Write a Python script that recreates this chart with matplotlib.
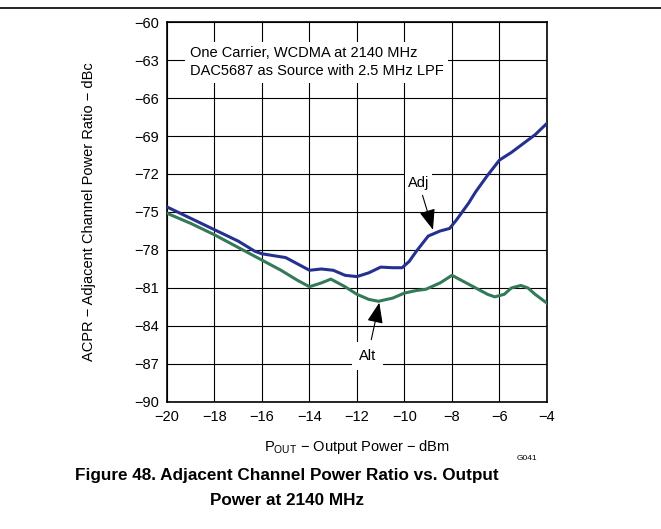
import numpy as np
import matplotlib
matplotlib.use("Agg")
import matplotlib.pyplot as plt

plt.rcParams['font.family'] = ['Liberation Sans', 'DejaVu Sans']

# Adj channel (blue)
adj_x = [-20, -19, -18, -17, -16.3, -16, -15, -14.5, -14, -13.5, -13, -12.5, -12,
         -11.5, -11, -10.5, -10.1, -9.8, -9.5, -9, -8.5, -8.1, -7.8, -7.3, -7,
         -6.5, -6, -5.5, -5, -4.5, -4]
adj_y = [-74.6, -75.5, -76.4, -77.3, -78.1, -78.3, -78.6, -79.1, -79.6, -79.5, -79.6,
         -80.0, -80.1, -79.8, -79.35, -79.4, -79.4, -78.9, -78.1, -76.9, -76.5, -76.3,
         -75.6, -74.3, -73.4, -72.1, -70.9, -70.3, -69.6, -68.9, -68.0]

# Alt channel (green)
alt_x = [-20, -19, -18, -17, -16, -15.2, -14.5, -14, -13.5, -13.1, -12.5, -12, -11.5,
         -11.1, -10.5, -10, -9.5, -9.1, -8.5, -8, -7.5, -7, -6.5, -6.2, -5.8, -5.5,
         -5.1, -4.8, -4.5, -4]
alt_y = [-75.1, -75.9, -76.8, -77.8, -78.8, -79.6, -80.4, -80.9, -80.6, -80.3, -80.9,
         -81.5, -81.9, -82.05, -81.8, -81.4, -81.2, -81.1, -80.6, -80.0, -80.5, -81.0,
         -81.5, -81.7, -81.5, -81.0, -80.8, -81.0, -81.5, -82.2]

x_ticks = np.arange(-20, -3, 2)
y_ticks = np.arange(-90, -59, 3)

fig = plt.figure(figsize=(6.61, 5.29), dpi=100)
ax = fig.add_axes([0.2526, 0.2401, 0.5749, 0.7183])

ax.plot(adj_x, adj_y, color="#25318f", lw=2.2, zorder=3)
ax.plot(alt_x, alt_y, color="#357a58", lw=2.2, zorder=3)

ax.set_xlim(-20, -4)
ax.set_ylim(-90, -60)
ax.set_xticks(x_ticks)
ax.set_yticks(y_ticks)
ax.set_xticklabels([f"\u2212{abs(v)}" for v in x_ticks])
ax.set_yticklabels([f"\u2212{abs(v)}" for v in y_ticks])
ax.tick_params(length=0, labelsize=10.5, pad=6)
ax.grid(True, color="black", lw=0.8)
for s in ax.spines.values():
    s.set_linewidth(1.2)

ax.set_xlabel("P$_{\\mathregular{OUT}}$ \u2212 Output Power \u2212 dBm",
              fontsize=10.5, labelpad=10)
ax.set_ylabel("ACPR \u2212 Adjacent Channel Power Ratio \u2212 dBc", fontsize=10.5, labelpad=27)

ax.text(-19.05, -61.9, "One Carrier, WCDMA at 2140 MHz\nDAC5687 as Source with 2.5 MHz LPF",
        fontsize=10.5, va="top", ha="left", linespacing=1.4,
        bbox=dict(facecolor="white", edgecolor="none", pad=3), zorder=4)

arrow = dict(arrowstyle="-|>,head_length=0.9,head_width=0.35", color="black",
             lw=0.8, mutation_scale=14, shrinkA=2, shrinkB=0)
ax.annotate("Adj", xy=(-8.8, -76.4), xytext=(-9.4, -72.7), fontsize=10.5,
            ha="center", va="center",
            bbox=dict(facecolor="white", edgecolor="none", pad=2),
            arrowprops=arrow, zorder=4)
ax.annotate("Alt", xy=(-11.06, -82.16), xytext=(-11.55, -86.4), fontsize=10.5,
            ha="center", va="center",
            bbox=dict(facecolor="white", edgecolor="none", pad=5),
            arrowprops=arrow, zorder=4)

fig.text(527 / 661, 1 - 458 / 529, "G041", fontsize=6, ha="center", va="center")
fig.text(287 / 661, 1 - 488 / 529,
         "Figure 48. Adjacent Channel Power Ratio vs. Output\nPower at 2140 MHz",
         fontsize=12.3, fontweight="bold", ha="center", va="center", linespacing=1.85)
fig.add_artist(plt.Line2D([0, 1], [1 - 8 / 529, 1 - 8 / 529], color="black", lw=1.2))

fig.savefig("out.png", dpi=100)
